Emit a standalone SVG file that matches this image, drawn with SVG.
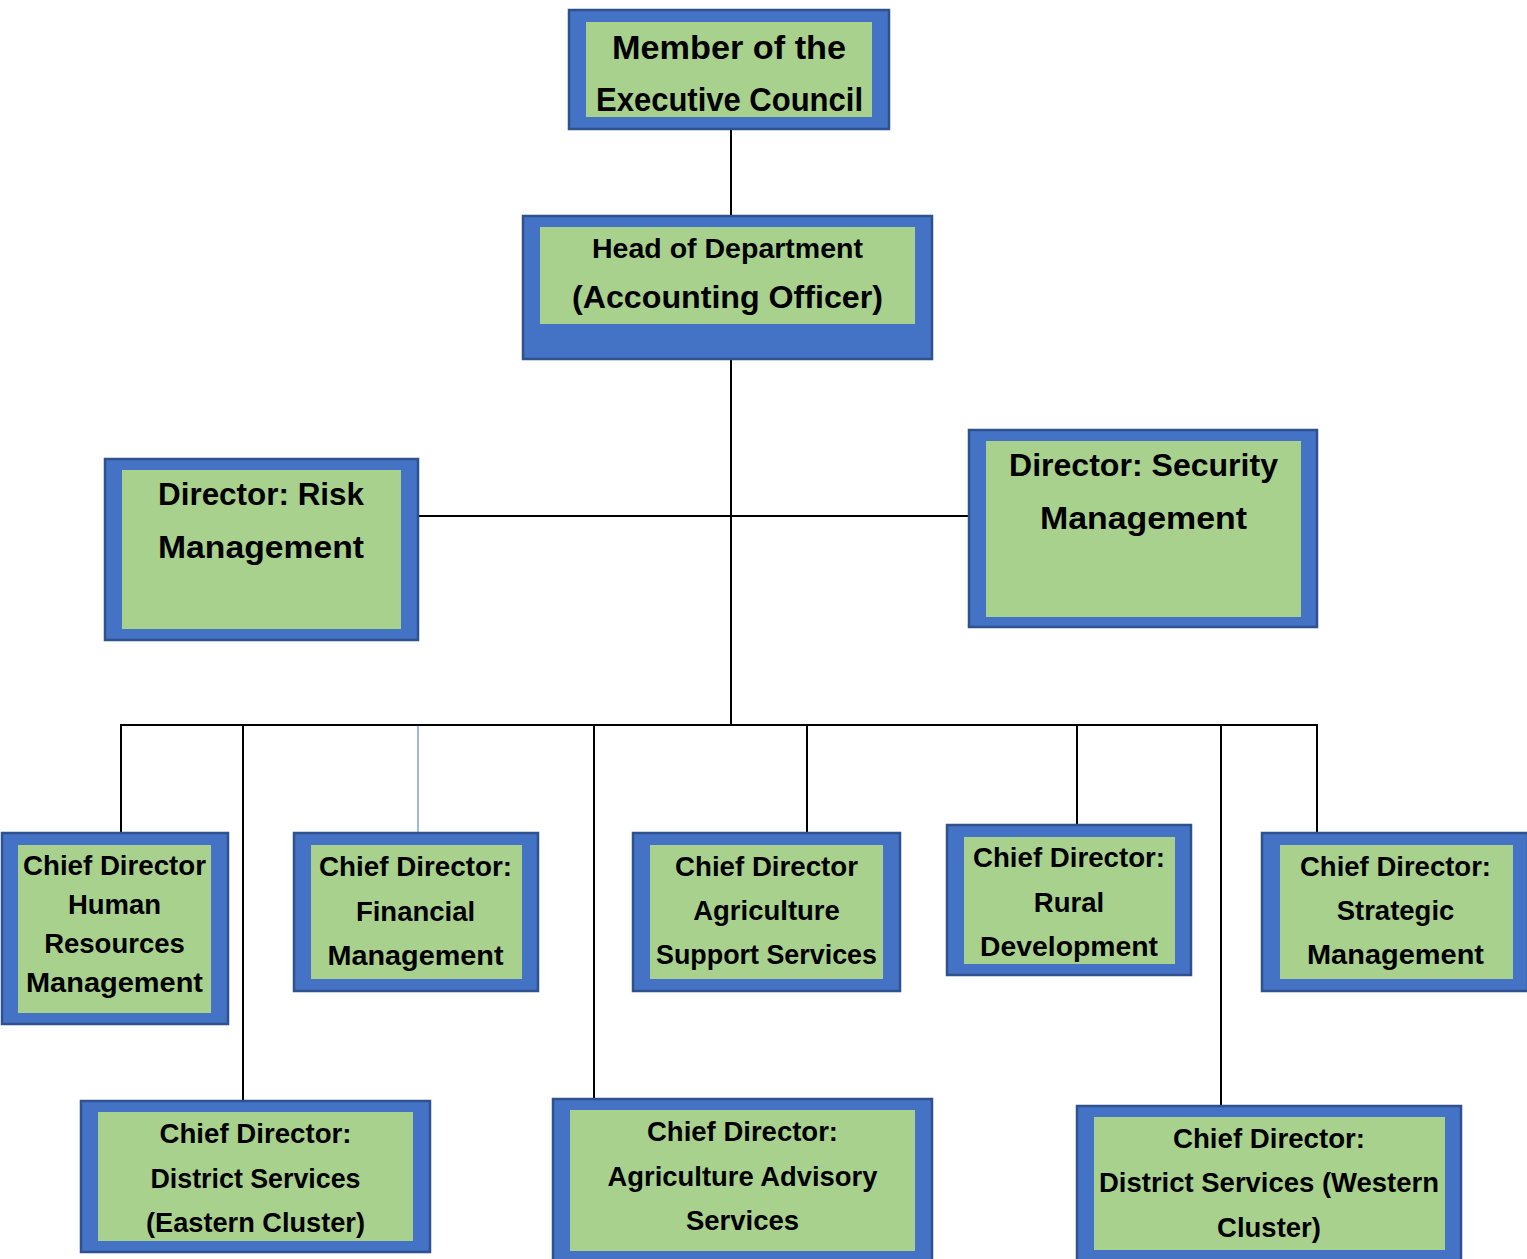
<svg xmlns="http://www.w3.org/2000/svg" width="1527" height="1259" viewBox="0 0 1527 1259">
<style>
.outer{fill:#4472C4;stroke:#2F528F;stroke-width:2.5}
.inner{fill:#A9D18E}
text{font-family:"Liberation Sans",Arial,sans-serif;font-weight:bold;fill:#000;text-anchor:middle}
.c{stroke:#000;stroke-width:2;fill:none}
.s{font-size:27.5px}
</style>
<rect width="1527" height="1259" fill="#fff"/>
<g id="connectors">
<line class="c" x1="731" y1="129" x2="731" y2="217"/>
<line class="c" x1="731" y1="359" x2="731" y2="726"/>
<line class="c" x1="418" y1="516" x2="970" y2="516"/>
<line class="c" x1="120" y1="725" x2="1318" y2="725"/>
<line class="c" x1="121" y1="725" x2="121" y2="833"/>
<line class="c" x1="243" y1="725" x2="243" y2="1101"/>
<line x1="418" y1="726" x2="418" y2="833" stroke="#4472C4" stroke-width="1"/>
<line class="c" x1="594" y1="725" x2="594" y2="1099"/>
<line class="c" x1="807" y1="725" x2="807" y2="833"/>
<line class="c" x1="1077" y1="725" x2="1077" y2="825"/>
<line class="c" x1="1221" y1="725" x2="1221" y2="1105"/>
<line class="c" x1="1317" y1="725" x2="1317" y2="833"/>
</g>
<g id="mec">
<rect class="outer" x="569" y="10" width="320" height="119"/>
<rect class="inner" x="586" y="22" width="286" height="95"/>
<text x="729" y="59" font-size="34" textLength="234" lengthAdjust="spacingAndGlyphs">Member of the</text>
<text x="729.5" y="111" font-size="34" textLength="267" lengthAdjust="spacingAndGlyphs">Executive Council</text>
</g>
<g id="hod">
<rect class="outer" x="523" y="216" width="409" height="143"/>
<rect class="inner" x="540" y="227" width="375" height="97"/>
<text x="727.5" y="258" font-size="28.5" textLength="271" lengthAdjust="spacingAndGlyphs">Head of Department</text>
<text x="727.5" y="308" font-size="32" textLength="311" lengthAdjust="spacingAndGlyphs">(Accounting Officer)</text>
</g>
<g id="risk">
<rect class="outer" x="105" y="459" width="313" height="181"/>
<rect class="inner" x="122" y="470" width="279" height="159"/>
<text x="261" y="505" font-size="31" textLength="206" lengthAdjust="spacingAndGlyphs">Director: Risk</text>
<text x="261" y="558" font-size="31" textLength="206" lengthAdjust="spacingAndGlyphs">Management</text>
</g>
<g id="security">
<rect class="outer" x="969" y="430" width="348" height="197"/>
<rect class="inner" x="986" y="441" width="315" height="176"/>
<text x="1143.5" y="476" font-size="32" textLength="269" lengthAdjust="spacingAndGlyphs">Director: Security</text>
<text x="1143.5" y="529" font-size="32" textLength="207" lengthAdjust="spacingAndGlyphs">Management</text>
</g>
<g id="hr">
<rect class="outer" x="2" y="833" width="226" height="191"/>
<rect class="inner" x="18" y="845" width="193" height="168"/>
<text class="s" x="114.5" y="875" textLength="183" lengthAdjust="spacingAndGlyphs">Chief Director</text>
<text class="s" x="114.5" y="914">Human</text>
<text class="s" x="114.5" y="953">Resources</text>
<text class="s" x="114.5" y="992" textLength="177" lengthAdjust="spacingAndGlyphs">Management</text>
</g>
<g id="financial">
<rect class="outer" x="294" y="833" width="244" height="158"/>
<rect class="inner" x="311" y="845" width="211" height="134"/>
<text class="s" x="415.5" y="876" textLength="193" lengthAdjust="spacingAndGlyphs">Chief Director:</text>
<text class="s" x="415.5" y="921">Financial</text>
<text class="s" x="415.5" y="965" textLength="176" lengthAdjust="spacingAndGlyphs">Management</text>
</g>
<g id="agri-support">
<rect class="outer" x="633" y="833" width="267" height="158"/>
<rect class="inner" x="650" y="845" width="233" height="134"/>
<text class="s" x="766.5" y="876" textLength="183" lengthAdjust="spacingAndGlyphs">Chief Director</text>
<text class="s" x="766.5" y="920">Agriculture</text>
<text class="s" x="766.5" y="964" textLength="221" lengthAdjust="spacingAndGlyphs">Support Services</text>
</g>
<g id="rural">
<rect class="outer" x="947" y="825" width="244" height="150"/>
<rect class="inner" x="964" y="837" width="211" height="127"/>
<text class="s" x="1069" y="867" textLength="192" lengthAdjust="spacingAndGlyphs">Chief Director:</text>
<text class="s" x="1069" y="912">Rural</text>
<text class="s" x="1069" y="956" textLength="178" lengthAdjust="spacingAndGlyphs">Development</text>
</g>
<g id="strategic">
<rect class="outer" x="1262" y="833" width="266" height="158"/>
<rect class="inner" x="1280" y="845" width="233" height="134"/>
<text class="s" x="1395.5" y="876" textLength="191" lengthAdjust="spacingAndGlyphs">Chief Director:</text>
<text class="s" x="1395.5" y="920">Strategic</text>
<text class="s" x="1395.5" y="964" textLength="177" lengthAdjust="spacingAndGlyphs">Management</text>
</g>
<g id="eastern">
<rect class="outer" x="81" y="1101" width="349" height="151"/>
<rect class="inner" x="98" y="1112" width="315" height="129"/>
<text class="s" x="255.5" y="1143" textLength="192" lengthAdjust="spacingAndGlyphs">Chief Director:</text>
<text class="s" x="255.5" y="1188" textLength="210" lengthAdjust="spacingAndGlyphs">District Services</text>
<text class="s" x="255.5" y="1232" textLength="219" lengthAdjust="spacingAndGlyphs">(Eastern Cluster)</text>
</g>
<g id="advisory">
<rect class="outer" x="553" y="1099" width="379" height="170"/>
<rect class="inner" x="570" y="1110" width="345" height="141"/>
<text class="s" x="742.5" y="1141" textLength="191" lengthAdjust="spacingAndGlyphs">Chief Director:</text>
<text class="s" x="742.5" y="1186" textLength="270" lengthAdjust="spacingAndGlyphs">Agriculture Advisory</text>
<text class="s" x="742.5" y="1230">Services</text>
</g>
<g id="western">
<rect class="outer" x="1077" y="1106" width="384" height="163"/>
<rect class="inner" x="1094" y="1117" width="351" height="133"/>
<text class="s" x="1269" y="1148" textLength="192" lengthAdjust="spacingAndGlyphs">Chief Director:</text>
<text class="s" x="1269" y="1192" textLength="340" lengthAdjust="spacingAndGlyphs">District Services (Western</text>
<text class="s" x="1269" y="1237">Cluster)</text>
</g>
</svg>
